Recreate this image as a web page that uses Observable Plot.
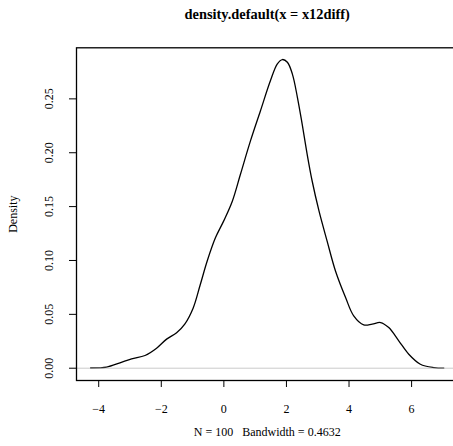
<!DOCTYPE html>
<html>
<head>
<meta charset="utf-8">
<script src="https://cdn.jsdelivr.net/npm/d3@7"></script>
<script src="https://cdn.jsdelivr.net/npm/@observablehq/plot@0.6"></script>
<style>
  html, body { margin: 0; padding: 0; background: white; overflow: hidden; }
  #chart svg { overflow: hidden; display: block; }
  #chart svg, #chart svg text { font-family: "Liberation Serif", serif !important; }
  g[aria-label="title"] text { letter-spacing: 0.85px; }
  g[aria-label="caption"] text { letter-spacing: 1.0px; white-space: pre; }
</style>
</head>
<body>
<div id="chart"></div>
<script>
// Density estimate
const xValues = [-4.26, -3.75, -3.32, -2.95, -2.52, -2.15, -1.83, -1.51, -1.25, -0.98, -0.76, -0.53, -0.27, 0.0, 0.27, 0.53, 0.85, 1.17, 1.49, 1.71, 1.87, 2.03, 2.19, 2.35, 2.50, 2.66, 2.82, 3.04, 3.30, 3.57, 3.89, 4.15, 4.47, 4.74, 5.01, 5.27, 5.59, 5.91, 6.28, 6.71, 7.03];
const densityValues = [0.0002, 0.001, 0.005, 0.0087, 0.0118, 0.0186, 0.027, 0.033, 0.041, 0.056, 0.077, 0.0997, 0.121, 0.137, 0.155, 0.180, 0.211, 0.239, 0.267, 0.2825, 0.2865, 0.284, 0.273, 0.2515, 0.227, 0.199, 0.174, 0.146, 0.118, 0.090, 0.0656, 0.0486, 0.0402, 0.0409, 0.0424, 0.0377, 0.0254, 0.013, 0.0037, 0.0006, 0.0001];
const xTicks = [-4, -2, 0, 2, 4, 6];
const yTicks = [0, 0.05, 0.10, 0.15, 0.20, 0.25];
const titleText = "density.default(x = x12diff)";
const yLabel = "Density";
const captionText = "N = 100   Bandwidth = 0.4632";

const data = xValues.map((x, i) => ({x, y: densityValues[i]}));

const chart = Plot.plot({
  width: 453,
  height: 446,
  marginLeft: 76,
  marginRight: -4.4,
  marginTop: 47.3,
  marginBottom: 66,
  x: {domain: [-4.71, 7.48]},
  y: {domain: [-0.0114, 0.2974]},
  style: {fontFamily: "Liberation Serif, serif", fontSize: "12px", background: "white", color: "black"},
  marks: [
    Plot.line(data, {x: "x", y: "y", curve: "catmull-rom", stroke: "black", strokeWidth: 1.3}),
    Plot.ruleY([0], {stroke: "#bebebe", strokeWidth: 0.8}),
    Plot.frame({stroke: "black", strokeWidth: 1.3}),
    Plot.axisX({ticks: xTicks, tickSize: 7, tickPadding: 16.5, label: null, stroke: "black", strokeWidth: 1, fill: "black"}),
    Plot.axisY({ticks: yTicks, tickSize: 7, tickPadding: 17, tickRotate: -90, tickFormat: d3.format(".2f"), label: null, stroke: "black", strokeWidth: 1, fill: "black"}),
    Plot.text([yLabel], {frameAnchor: "left", dx: -60, rotate: -90, lineAnchor: "bottom", textAnchor: "middle", fill: "black", fontSize: 12}),
    Plot.text([titleText], {frameAnchor: "top", dy: -29, lineAnchor: "bottom", textAnchor: "middle", fontWeight: "bold", fontSize: 14.4, fill: "black", ariaLabel: "title"}),
    Plot.text([captionText], {frameAnchor: "bottom", dy: 55, lineAnchor: "bottom", textAnchor: "middle", fontSize: 12, fill: "black", ariaLabel: "caption"})
  ]
});
document.getElementById("chart").appendChild(chart);
</script>
</body>
</html>
